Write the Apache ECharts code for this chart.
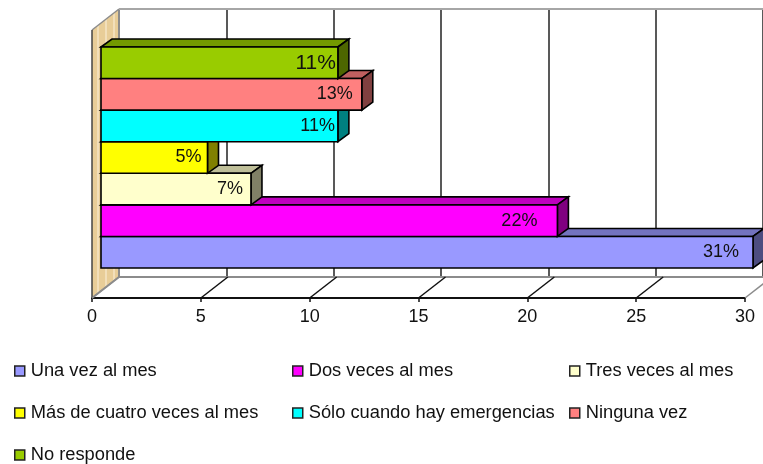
<!DOCTYPE html>
<html>
<head>
<meta charset="utf-8">
<style>
    html, body { margin: 0; padding: 0; background: #fff; }
    #chart { width: 763px; height: 464px; }
</style>
<script src="https://cdn.jsdelivr.net/npm/echarts@6/dist/echarts.min.js"></script>
</head>
<body>
<div id="chart"></div>
<script>
    // bottom to top, same order as the legend
    const categories = ['Una vez al mes', 'Dos veces al mes', 'Tres veces al mes', 'Más de cuatro veces al mes',
        'Sólo cuando hay emergencias', 'Ninguna vez', 'No responde'];
    const values = [30, 21, 6.9, 4.9, 10.9, 12, 10.9];
    const percentLabels = ['31%', '22%', '7%', '5%', '11%', '13%', '11%'];
    const axisTicks = [0, 5, 10, 15, 20, 25, 30];

    const colors = ['#9999FF', '#FF00FF', '#FFFFCC', '#FFFF00', '#00FFFF', '#FF8080', '#99CC00'];
    const topColors = ['#7373BF', '#BF00BF', '#BFBF99', '#BFBF00', '#00BFBF', '#BF6060', '#739900'];
    const sideColors = ['#4D4D80', '#800080', '#808066', '#808000', '#008080', '#804040', '#4D6600'];
    // labels sit a bit differently in every bar of the original
    const labelInset = [14, 20, 8, 6, 3, 9, 2];
    const labelSize = [18, 18, 18, 18, 18, 18, 21];

    const FONT = '"Liberation Sans", Arial, sans-serif';
    const WALL_DX = 27, WALL_DY = 21; // depth of the whole box
    const BAR_DX = 11, BAR_DY = 8;    // depth of one bar

    // wall texture
    function wallPattern() {
        const c = document.createElement('canvas');
        c.width = 8;
        c.height = 8;
        const ctx = c.getContext('2d');
        ctx.fillStyle = '#E8CD98';
        ctx.fillRect(0, 0, 8, 8);
        ctx.fillStyle = '#F2DFBA';
        ctx.fillRect(1, 0, 2, 8);
        return c;
    }

    function poly(points, fill, stroke, width) {
        return {
            type: 'polygon',
            shape: { points: points },
            style: { fill: fill, stroke: stroke, lineWidth: width, lineJoin: 'miter' }
        };
    }

    function line(a, b, color, width) {
        return {
            type: 'line',
            shape: { x1: a[0], y1: a[1], x2: b[0], y2: b[1] },
            style: { stroke: color, lineWidth: width }
        };
    }

    // wall and back edges, drawn on the back plane
    function renderFrame(params, api) {
        const bb = api.coord([0, 0]);
        const bt = api.coord([0, 1]);
        const rt = api.coord([30, 1]);
        const rb = api.coord([30, 0]);
        const ft = [bt[0] - WALL_DX, bt[1] + WALL_DY];
        const fb = [bb[0] - WALL_DX, bb[1] + WALL_DY];
        return {
            type: 'group',
            children: [
                poly([ft, bt, bb, fb], { image: wallPattern(), repeat: 'repeat' }, null, 0),
                line(ft, bt, '#8C8C8C', 1.5),
                line(bt, bb, '#8C8C8C', 2),
                line(bb, fb, '#8C8C8C', 2),
                line(ft, fb, '#444', 1.5),
                line(bt, rt, '#A6A6A6', 2),
                line(bb, rb, '#8C8C8C', 2)
            ]
        };
    }

    // floor lines, one per tick
    function renderFloor(params, api) {
        const p = api.coord([api.value(0), 0]);
        const edge = params.dataIndex === 0 || params.dataIndex === axisTicks.length - 1;
        return line(p, [p[0] + WALL_DX, p[1] - WALL_DY], edge ? '#8C8C8C' : '#111', 1.5);
    }

    function renderBar(i) {
        return function (params, api) {
            const end = api.coord([api.value(0), api.value(1)]);
            const start = api.coord([0, api.value(1)]);
            const h = api.size([0, 1])[1];
            const x0 = start[0], x1 = end[0];
            const y0 = end[1] - h / 2, y1 = end[1] + h / 2;
            const front = [[x0, y0], [x1, y0], [x1, y1], [x0, y1]];
            const top = [[x0, y0], [x0 + BAR_DX, y0 - BAR_DY], [x1 + BAR_DX, y0 - BAR_DY], [x1, y0]];
            const side = [[x1, y0], [x1 + BAR_DX, y0 - BAR_DY], [x1 + BAR_DX, y1 - BAR_DY], [x1, y1]];
            return {
                type: 'group',
                children: [
                    poly(top, topColors[i], '#000', 1.6),
                    poly(side, sideColors[i], '#000', 1.6),
                    poly(front, colors[i], '#000', 1.6),
                    {
                        type: 'text',
                        style: {
                            x: x1 - labelInset[i],
                            y: end[1],
                            text: percentLabels[i],
                            align: 'right',
                            verticalAlign: 'middle',
                            fill: '#111',
                            font: labelSize[i] + 'px ' + FONT
                        }
                    }
                ]
            };
        };
    }

    const barSeries = categories.map((name, i) => ({
        name: name,
        type: 'custom',
        xAxisIndex: 2,
        yAxisIndex: 2,
        z: 5 + i,
        itemStyle: { color: colors[i] },
        renderItem: renderBar(i),
        encode: { x: 0, y: 1 },
        data: [[values[i], i]]
    }));

    const legendBase = {
        orient: 'vertical',
        icon: 'rect',
        itemWidth: 10,
        itemHeight: 10,
        itemGap: 24,
        padding: 0,
        selectedMode: false,
        itemStyle: { borderColor: '#222', borderWidth: 1.5 },
        textStyle: { color: '#111', fontSize: 18.3, fontFamily: FONT, padding: [0, 0, 0, 1] }
    };

    const hiddenAxis = { show: false };

    const option = {
        animation: false,
        backgroundColor: '#fff',
        // front plane, back plane, bars
        grid: [
            { left: 92, width: 653, top: 30, height: 268 },
            { left: 119, width: 653, top: 9, height: 268 },
            { left: 101, width: 652, top: 47, height: 221 }
        ],
        xAxis: [
            {
                gridIndex: 0,
                type: 'value',
                min: 0,
                max: 30,
                interval: 5,
                axisLine: { show: true, lineStyle: { color: '#111', width: 2 } },
                axisTick: { show: true, length: 4, lineStyle: { color: '#111', width: 1.5 } },
                axisLabel: { color: '#111', fontSize: 18, fontFamily: FONT, margin: 10, hideOverlap: false,
                    showMinLabel: true, showMaxLabel: true },
                splitLine: { show: false }
            },
            {
                gridIndex: 1,
                type: 'value',
                min: 0,
                max: 30,
                interval: 5,
                axisLine: { show: false },
                axisTick: { show: false },
                axisLabel: { show: false },
                splitLine: { show: true, showMinLine: false, lineStyle: { color: '#222', width: 1.5 } }
            },
            { gridIndex: 2, type: 'value', min: 0, max: 30, interval: 5, ...hiddenAxis }
        ],
        yAxis: [
            { gridIndex: 0, type: 'value', min: 0, max: 1, ...hiddenAxis },
            { gridIndex: 1, type: 'value', min: 0, max: 1, ...hiddenAxis },
            { gridIndex: 2, type: 'category', data: categories, ...hiddenAxis }
        ],
        legend: [
            { ...legendBase, left: 14, top: 362, data: [categories[0], categories[3], categories[6]] },
            { ...legendBase, left: 292, top: 362, data: [categories[1], categories[4]] },
            { ...legendBase, left: 569, top: 362, data: [categories[2], categories[5]] }
        ],
        series: [
            {
                type: 'custom',
                xAxisIndex: 1,
                yAxisIndex: 1,
                z: 1,
                renderItem: renderFrame,
                data: [[0, 0]],
                silent: true
            },
            {
                type: 'custom',
                xAxisIndex: 0,
                yAxisIndex: 0,
                z: 2,
                renderItem: renderFloor,
                data: axisTicks.map(t => [t, 0]),
                silent: true
            },
            ...barSeries
        ]
    };

    const myChart = echarts.init(document.getElementById('chart'));
    myChart.setOption(option);
</script>
</body>
</html>
